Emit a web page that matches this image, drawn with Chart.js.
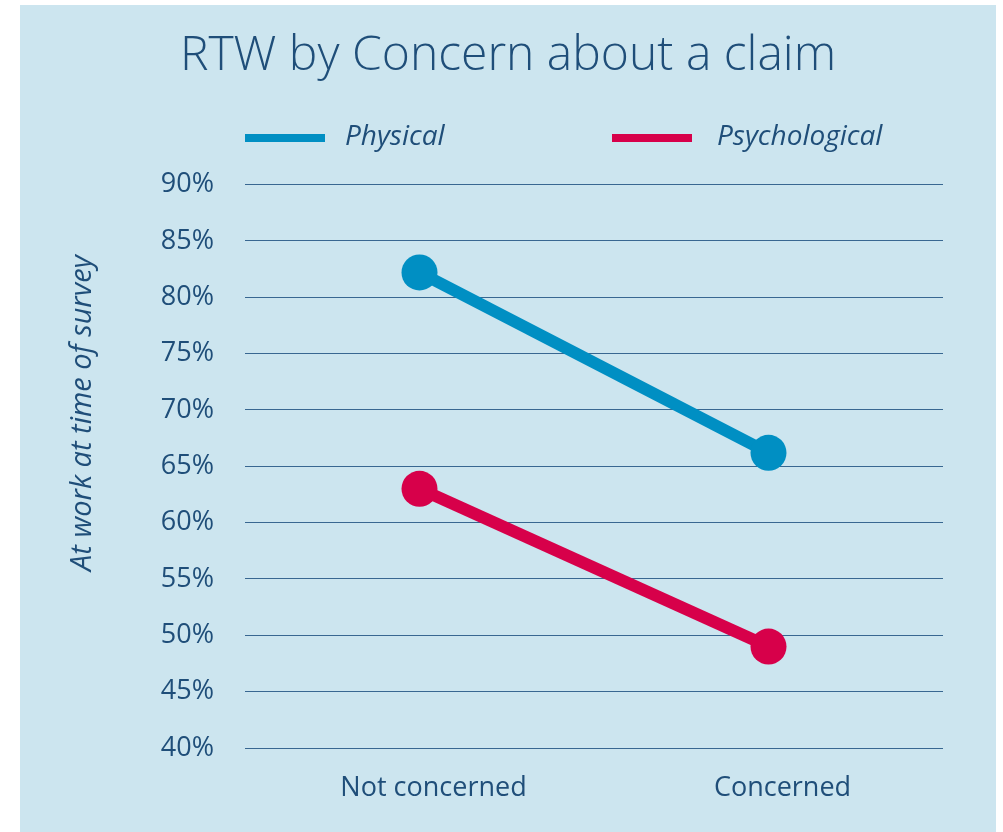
<!DOCTYPE html>
<html>
<head>
<meta charset="utf-8">
<script src="https://cdn.jsdelivr.net/npm/chart.js@4.4.1/dist/chart.umd.min.js"></script>
<style>
  html, body { margin: 0; padding: 0; background: #ffffff; }
  #wrap {
    position: absolute;
    left: 20px;
    top: 5px;
    width: 976px;
    height: 827px;
    background: #cce5ef;
  }
</style>
</head>
<body>
<div id="wrap"><canvas id="rtwChart"></canvas></div>
<script>
const categories = ['Not concerned', 'Concerned'];
const physical = [82.2, 66.2];
const psychological = [63.0, 49.0];
const seriesNames = ['Physical', 'Psychological'];
const yTitle = 'At work at time of survey';

const textColor = '#1f4e79';
const gridColor = '#386791';
const blue = '#008fc3';
const red = '#d7004a';
const fontFamily = '"Open Sans", "Noto Sans", sans-serif';

// legend drawn by hand so it sits where the original puts it
const legendItems = [
    { lineX: 225, textX: 325 },
    { lineX: 592, textX: 697 }
];

const customLegend = {
    id: 'customLegend',
    afterDraw(chart) {
        const c = chart.ctx;
        c.save();
        chart.data.datasets.forEach((ds, i) => {
            const pos = legendItems[i];
            c.fillStyle = ds.borderColor;
            c.fillRect(pos.lineX, 129, 80, 8);
            c.fillStyle = textColor;
            c.font = 'italic 28px ' + fontFamily;
            c.textBaseline = 'middle';
            c.textAlign = 'left';
            c.fillText(ds.label, pos.textX, 132);
        });
        // y axis title, a bit above the middle like the original
        c.translate(63, 408);
        c.rotate(-Math.PI / 2);
        c.font = 'italic 29px ' + fontFamily;
        c.textAlign = 'center';
        c.fillText(yTitle, 0, 0);
        c.restore();
    }
};

document.addEventListener('DOMContentLoaded', () => {
    initChart();
});

function initChart() {
    const ctx = document.getElementById('rtwChart').getContext('2d');
    new Chart(ctx, {
        type: 'line',
        data: {
            labels: categories,
            datasets: [{
                label: seriesNames[0],
                data: physical,
                borderColor: blue,
                backgroundColor: blue,
                borderWidth: 12,
                pointRadius: 18,
                pointHoverRadius: 18,
                pointBorderWidth: 0,
                tension: 0
            }, {
                label: seriesNames[1],
                data: psychological,
                borderColor: red,
                backgroundColor: red,
                borderWidth: 12,
                pointRadius: 18,
                pointHoverRadius: 18,
                pointBorderWidth: 0,
                tension: 0
            }]
        },
        plugins: [customLegend],
        options: {
            responsive: true,
            maintainAspectRatio: false,
            animation: false,
            layout: {
                padding: { left: 53, right: 53, top: 0, bottom: 0 }
            },
            plugins: {
                tooltip: { enabled: false },
                legend: { display: false },
                title: {
                    display: true,
                    text: 'RTW by Concern about a claim',
                    color: textColor,
                    font: { family: fontFamily, size: 48, weight: '300' },
                    padding: { top: 23, bottom: 99 }
                }
            },
            scales: {
                x: {
                    offset: true,
                    grid: { display: false },
                    border: { display: false },
                    ticks: {
                        color: textColor,
                        padding: 16,
                        labelOffset: 14,
                        autoSkip: false,
                        maxRotation: 0,
                        font: { family: fontFamily, size: 27 }
                    },
                    afterFit: (scale) => { scale.height = 84; }
                },
                y: {
                    min: 40,
                    max: 90,
                    border: { display: false },
                    grid: {
                        color: gridColor,
                        lineWidth: 1,
                        drawTicks: false
                    },
                    ticks: {
                        stepSize: 5,
                        padding: 31,
                        autoSkip: false,
                        color: textColor,
                        font: { family: fontFamily, size: 27 },
                        callback: (v) => v + '%'
                    },
                    afterFit: (scale) => { scale.width = 172; }
                }
            }
        }
    });
}
</script>
</body>
</html>
